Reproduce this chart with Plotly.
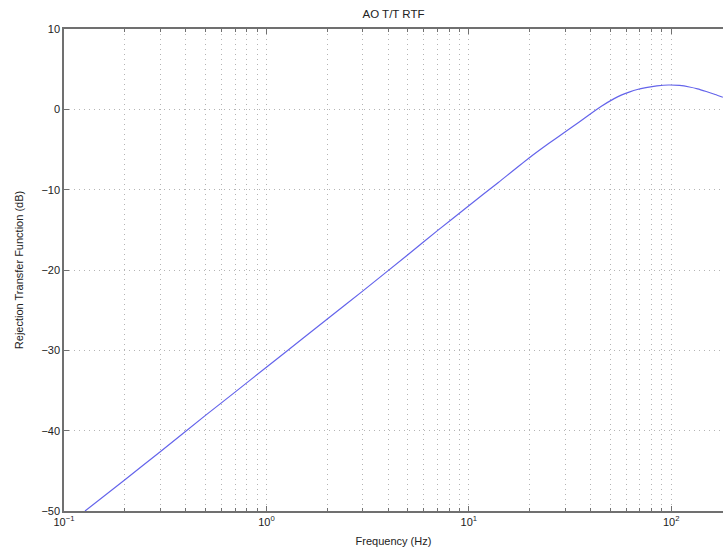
import plotly.graph_objects as go

# Data
freq_hz = [0.127, 0.2, 0.3, 0.5, 0.7, 1.0, 1.5, 2.0, 3.0, 5.0, 7.0, 10.0, 14.0, 20.0,
           25.0, 30.0, 35.0, 40.0, 45.0, 52.0, 57.0, 62.0, 68.0, 75.0, 85.0, 97.0,
           110.0, 123.0, 135.0, 149.0, 165.0, 180.0]
rtf_db = [-50.0, -46.1, -42.6, -38.1, -35.2, -32.1, -28.6, -26.1, -22.6, -18.1, -15.1,
          -12.0, -9.1, -6.0, -4.2, -2.8, -1.6, -0.55, 0.35, 1.3, 1.8, 2.15, 2.47,
          2.7, 2.92, 3.03, 2.97, 2.78, 2.55, 2.22, 1.85, 1.5]

x_major = [0.1, 1, 10, 100]
x_major_text = ["10<sup>\u22121</sup>", "10<sup>0</sup>", "10<sup>1</sup>", "10<sup>2</sup>"]
y_ticks = [-50, -40, -30, -20, -10, 0, 10]
x_minor = [m * 10 ** e for e in range(-1, 3) for m in range(2, 10)]

FONT = "Liberation Sans, Arial, Helvetica, sans-serif"
GRID = "#b4b4b4"
GDASH = "1px,4px"
AXC = "#707070"

fig = go.Figure()
fig.add_trace(go.Scatter(
    x=freq_hz, y=rtf_db, mode="lines",
    line=dict(color="rgb(100,100,235)", width=1.2, shape="spline", smoothing=0.5),
    showlegend=False, hoverinfo="skip",
))
# invisible trace on top axis to carry its ticks
fig.add_trace(go.Scatter(x=freq_hz, y=rtf_db, xaxis="x2", mode="lines",
                         line=dict(width=0), showlegend=False, hoverinfo="skip"))

xr = [-1, 2.256]
fig.update_layout(
    width=723, height=553,
    margin=dict(l=64, r=0, t=29, b=42),
    paper_bgcolor="white", plot_bgcolor="white",
    font=dict(family=FONT, size=11, color="#222"),
    title=dict(text="AO T/T RTF", x=0.5, xref="paper", xanchor="center",
               y=1 - 14 / 553, yref="container", yanchor="middle",
               font=dict(size=11.5, family=FONT, color="#222")),
    xaxis=dict(
        type="log", range=xr, tickmode="array", tickvals=x_major, ticktext=x_major_text,
        ticks="inside", ticklen=5, tickcolor=AXC, tickwidth=1,
        showline=True, linecolor=AXC, linewidth=1.5,
        showgrid=True, gridcolor=GRID, griddash=GDASH, gridwidth=1,
        zeroline=False, automargin=False,
        minor=dict(tickvals=x_minor, ticks="inside", ticklen=3, tickcolor=AXC,
                   showgrid=True, gridcolor=GRID, griddash=GDASH, gridwidth=1),
        title=dict(text="Frequency (Hz)", standoff=10, font=dict(size=11)),
        tickfont=dict(size=11),
    ),
    xaxis2=dict(
        type="log", range=xr, overlaying="x", side="top", matches="x",
        tickmode="array", tickvals=x_major, showticklabels=False,
        ticks="inside", ticklen=5, tickcolor=AXC, automargin=False,
        showline=True, linecolor=AXC, linewidth=1.5, showgrid=False, zeroline=False,
        minor=dict(tickvals=x_minor, ticks="inside", ticklen=3, tickcolor=AXC, showgrid=False),
    ),
    yaxis=dict(
        range=[-50, 10], tickmode="array", tickvals=y_ticks,
        ticks="inside", ticklen=5, tickcolor=AXC,
        showline=True, linecolor=AXC, linewidth=1.5,
        showgrid=True, gridcolor=GRID, griddash=GDASH, gridwidth=1,
        zeroline=False, automargin=False,
        title=dict(text="Rejection Transfer Function (dB)", standoff=16, font=dict(size=11)),
        tickfont=dict(size=11),
    ),
)

fig.write_html(
    "out.html",
    config={"displayModeBar": False},
    post_script="document.body.style.margin='0';document.body.style.overflow='hidden';",
)
